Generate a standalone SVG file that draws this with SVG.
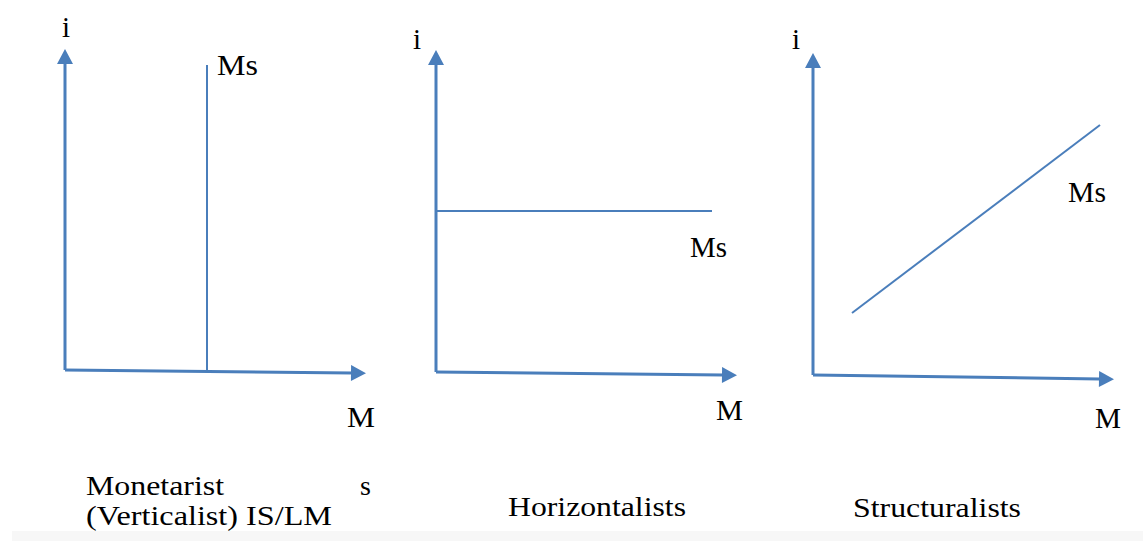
<svg xmlns="http://www.w3.org/2000/svg" width="1143" height="541" viewBox="0 0 1143 541">
<style>
.ax{stroke:#4a7ebb;stroke-width:3;fill:none;marker-end:url(#ah)}
.cv{stroke:#4a7ebb;stroke-width:2;fill:none}
text{font-family:"Liberation Serif","Times New Roman",serif;font-size:29px;fill:#000}
.cap{font-size:28px}
</style>
<defs>
<marker id="ah" markerUnits="userSpaceOnUse" markerWidth="16" markerHeight="16" viewBox="0 0 15 16" refX="1" refY="8" orient="auto">
<path d="M0,0 L15,8 L0,16 Z" fill="#4a7ebb"/>
</marker>
</defs>
<rect x="0" y="0" width="1143" height="541" fill="#ffffff"/>
<rect x="12" y="531" width="1131" height="10" fill="#f7f7f7"/>
<g id="connectors">
<line class="ax" x1="65" y1="370" x2="65" y2="63"/>
<line class="ax" x1="65" y1="370" x2="352" y2="373"/>
<line class="ax" x1="436" y1="372" x2="436" y2="64"/>
<line class="ax" x1="436" y1="372" x2="723" y2="375"/>
<line class="ax" x1="813" y1="375" x2="813" y2="67"/>
<line class="ax" x1="813" y1="375" x2="1100" y2="379"/>
</g>
<g id="monetarist">
<line class="cv" x1="207" y1="65" x2="207" y2="370"/>
<text x="62" y="37">i</text>
<text x="217" y="75" textLength="41" lengthAdjust="spacingAndGlyphs">Ms</text>
<text x="347" y="427" textLength="28" lengthAdjust="spacingAndGlyphs">M</text>
<text class="cap" x="86" y="495" textLength="138" lengthAdjust="spacingAndGlyphs">Monetarist</text>
<text class="cap" x="360" y="495">s</text>
<text class="cap" x="86" y="525" textLength="246" lengthAdjust="spacingAndGlyphs">(Verticalist) IS/LM</text>
</g>
<g id="horizontalists">
<line class="cv" x1="436" y1="211" x2="712" y2="211"/>
<text x="413" y="49">i</text>
<text x="690" y="257" textLength="37" lengthAdjust="spacingAndGlyphs">Ms</text>
<text x="716" y="420" textLength="27" lengthAdjust="spacingAndGlyphs">M</text>
<text class="cap" x="508" y="516" textLength="178" lengthAdjust="spacingAndGlyphs">Horizontalists</text>
</g>
<g id="structuralists">
<line class="cv" x1="852" y1="313" x2="1100" y2="125"/>
<text x="792" y="49">i</text>
<text x="1068" y="202" textLength="38" lengthAdjust="spacingAndGlyphs">Ms</text>
<text x="1095" y="428" textLength="26" lengthAdjust="spacingAndGlyphs">M</text>
<text class="cap" x="853" y="517" textLength="168" lengthAdjust="spacingAndGlyphs">Structuralists</text>
</g>
</svg>
